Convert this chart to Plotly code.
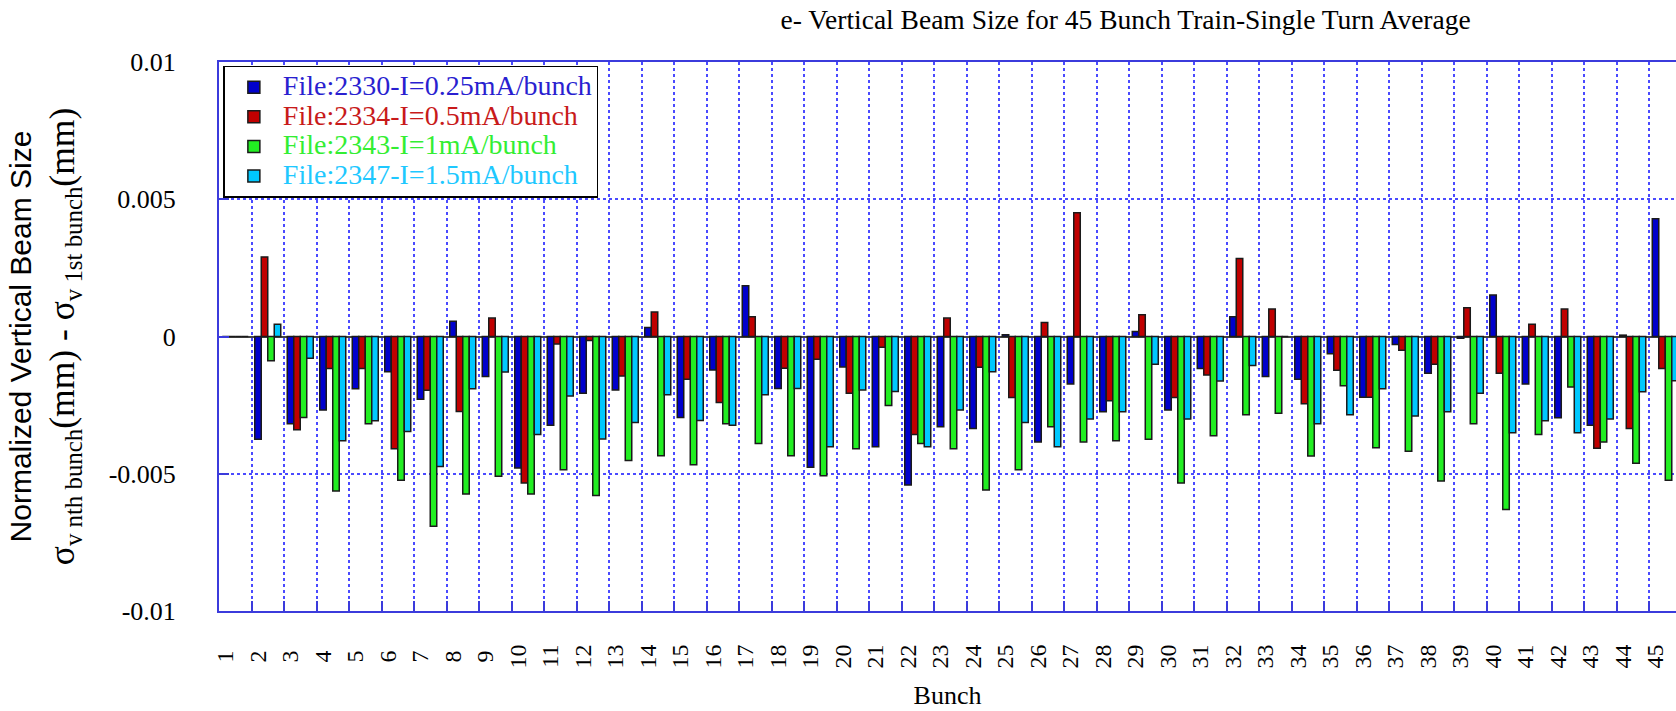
import plotly.graph_objects as go

bunches = list(range(1, 46))
tick_labels = [str(b) for b in bunches]

# normalized vertical beam size sigma_nth - sigma_1st (mm)
file_2330 = [0, -0.00374, -0.00318, -0.00268, -0.00190, -0.00128, -0.00229, 0.00056, -0.00146, -0.00479,
             -0.00323, -0.00207, -0.00195, 0.00033, -0.00295, -0.00122, 0.00185, -0.00189, -0.00476, -0.00111,
             -0.00402, -0.00541, -0.00329, -0.00335, 0.00006, -0.00384, -0.00173, -0.00274, 0.00018, -0.00268,
             -0.00117, 0.00072, -0.00146, -0.00156, -0.00063, -0.00221, -0.00029, -0.00134, -0.00006, 0.00151,
             -0.00173, -0.00296, -0.00323, 0.00005, 0.00429]
file_2334 = [0, 0.00290, -0.00340, -0.00117, -0.00117, -0.00409, -0.00196, -0.00273, 0.00067, -0.00534,
             -0.00027, -0.00015, -0.00144, 0.00089, -0.00156, -0.00240, 0.00072, -0.00116, -0.00083, -0.00207,
             -0.00039, -0.00357, 0.00067, -0.00112, -0.00222, 0.00051, 0.00451, -0.00234, 0.00079, -0.00222,
             -0.00140, 0.00284, 0.00100, -0.00245, -0.00123, -0.00221, -0.00050, -0.00101, 0.00105, -0.00134,
             0.00045, 0.00100, -0.00407, -0.00335, -0.00117]
file_2343 = [0, -0.00088, -0.00295, -0.00563, -0.00318, -0.00524, -0.00691, -0.00574, -0.00509, -0.00574,
             -0.00485, -0.00579, -0.00452, -0.00434, -0.00467, -0.00318, -0.00390, -0.00434, -0.00507, -0.00409,
             -0.00251, -0.00390, -0.00409, -0.00559, -0.00485, -0.00329, -0.00384, -0.00380, -0.00374, -0.00534,
             -0.00362, -0.00285, -0.00280, -0.00435, -0.00179, -0.00405, -0.00418, -0.00526, -0.00318, -0.00630,
             -0.00357, -0.00184, -0.00384, -0.00462, -0.00524]
file_2347 = [0, 0.00045, -0.00079, -0.00380, -0.00307, -0.00346, -0.00474, -0.00190, -0.00129, -0.00357,
             -0.00217, -0.00373, -0.00313, -0.00212, -0.00306, -0.00323, -0.00212, -0.00189, -0.00402, -0.00195,
             -0.00200, -0.00402, -0.00268, -0.00128, -0.00313, -0.00402, -0.00301, -0.00274, -0.00101, -0.00301,
             -0.00162, -0.00106, 0, -0.00318, -0.00285, -0.00190, -0.00290, -0.00274, -0.00207, -0.00351,
             -0.00307, -0.00351, -0.00301, -0.00201, -0.00161]

series_names = ["File:2330-I=0.25mA/bunch", "File:2334-I=0.5mA/bunch",
                "File:2343-I=1mA/bunch", "File:2347-I=1.5mA/bunch"]
series_values = [file_2330, file_2334, file_2343, file_2347]
bar_colors = ["#0000cc", "#c00000", "#22ee22", "#00c8ff"]
text_colors = ["#2a1fd0", "#c81a1a", "#33ee33", "#1ec8ff"]

y_tick_vals = [-0.01, -0.005, 0, 0.005, 0.01]
y_tick_text = ["-0.01", "-0.005", "0", "0.005", "0.01"]

AXIS_BLUE = "#3b3bdc"
GRID_BLUE = "#4a4aff"
SERIF = "Liberation Serif"

fig = go.Figure()
for name, vals, col, tcol in zip(series_names, series_values, bar_colors, text_colors):
    fig.add_trace(go.Bar(
        x=bunches, y=vals,
        name=f"<span style='color:{tcol};font-size:28px'>{name}</span>",
        marker=dict(color=col, line=dict(color="#1a1a1a", width=1.5)),
    ))

padded = [("\u00a0" + t + "\u00a0") if len(t) == 1 else t for t in tick_labels]

y_title = ("<span style='font-size:30px'>Normalized Vertical Beam Size</span><br>"
           "<span style='font-family:Liberation Serif;font-size:35.5px'>"
           "σ<sub>v nth bunch</sub>(mm) - σ<sub>v 1st bunch</sub>(mm)</span>")

fig.update_layout(
    width=1676, height=711,
    margin=dict(l=219, r=0, t=62, b=100),
    paper_bgcolor="white", plot_bgcolor="white",
    barmode="group", bargap=0.2, bargroupgap=0,
    title=dict(text="e- Vertical Beam Size for 45 Bunch Train-Single Turn Average",
               x=1125.6 / 1676, xanchor="center", xref="container",
               y=1 - 19 / 711, yanchor="middle", yref="container",
               font=dict(family=SERIF, size=27.5, color="black")),
    showlegend=True,
    legend=dict(x=0.003, y=0.993, xanchor="left", yanchor="top",
                bordercolor="black", borderwidth=1.5, bgcolor="white",
                font=dict(family=SERIF, size=20.5, color="black"),
                itemwidth=48, tracegroupgap=0),
    xaxis=dict(
        range=[0.5, 45.33],
        tickmode="array", tickvals=[b - 0.3 for b in bunches], ticktext=padded,
        tickangle=-90, tickfont=dict(family=SERIF, size=24, color="black"),
        ticks="", showgrid=False, zeroline=False,
        showline=True, linecolor=AXIS_BLUE, linewidth=2, mirror=True,
        ticklabelstandoff=22,
        minor=dict(tickmode="array", tickvals=[b + 0.5 for b in bunches[:-1]],
                   ticks="inside", ticklen=10, tickcolor=AXIS_BLUE, tickwidth=1.5,
                   showgrid=True, gridcolor=GRID_BLUE, griddash="dot", gridwidth=1.5),
        title=dict(text="Bunch", font=dict(family=SERIF, size=26, color="black"), standoff=18),
    ),
    yaxis=dict(
        range=[-0.01, 0.01],
        tickmode="array", tickvals=y_tick_vals, ticktext=y_tick_text,
        tickfont=dict(family=SERIF, size=26, color="black"),
        ticks="inside", ticklen=10, tickcolor=AXIS_BLUE, tickwidth=1.5,
        showline=True, linecolor=AXIS_BLUE, linewidth=2, mirror=False,
        showgrid=True, gridcolor=GRID_BLUE, griddash="dot", gridwidth=1.5,
        zeroline=True, zerolinecolor="#444444", zerolinewidth=2,
        ticklabelstandoff=36,
        title=dict(text=y_title, font=dict(family="Liberation Sans", size=33, color="black"),
                   standoff=24),
    ),
)

fig.write_html(
    "out.html",
    config={"displayModeBar": False},
    post_script="document.body.style.margin='0';document.body.style.overflow='hidden';",
)
